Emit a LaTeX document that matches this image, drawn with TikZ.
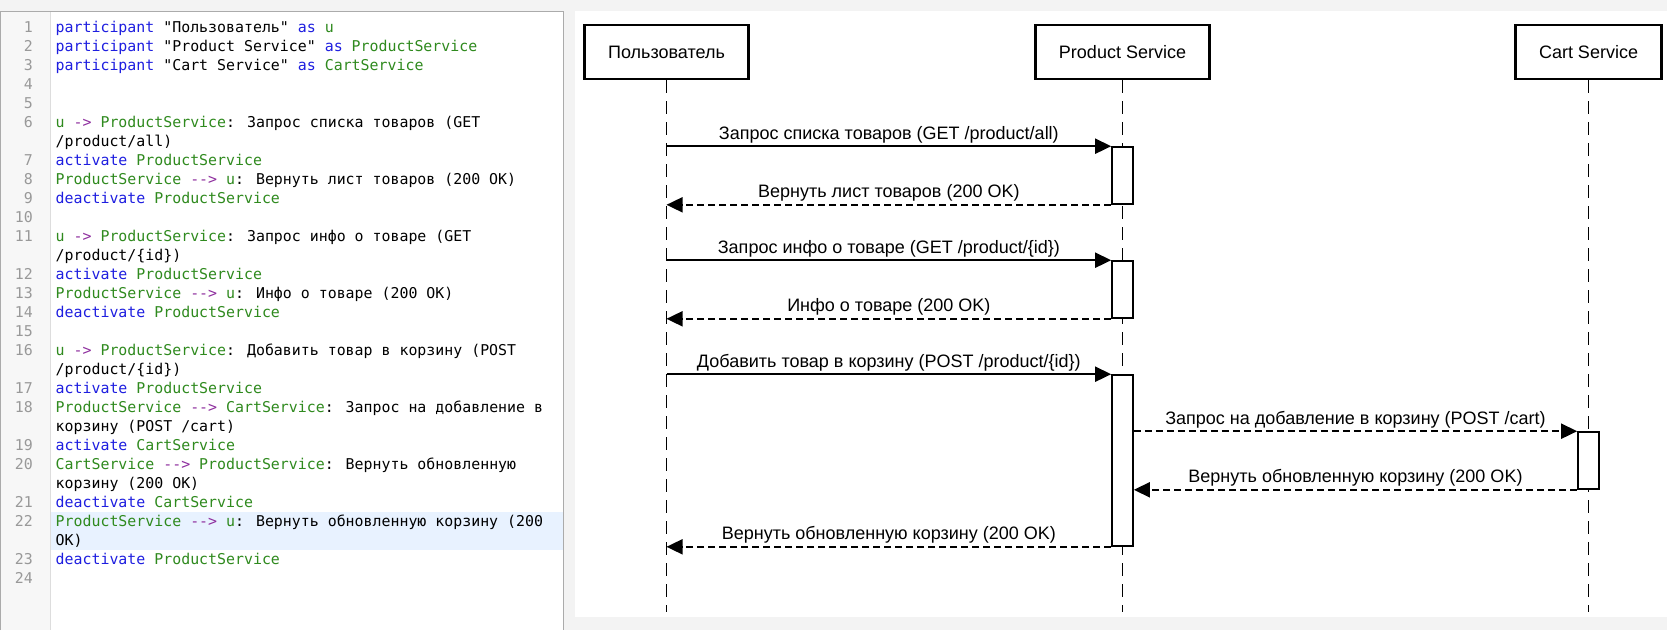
\documentclass[tikz,border=0pt]{standalone}
\usepackage{fontspec}
\usetikzlibrary{arrows.meta}
\newfontfamily\diagfont{Liberation Sans}
\newfontfamily\codefont{DejaVu Sans Mono}[WordSpace={1,0,0}]
\definecolor{bgc}{HTML}{F3F3F3}
\definecolor{edborder}{HTML}{ABABAB}
\definecolor{gutterc}{HTML}{F7F7F7}
\definecolor{gutterln}{HTML}{DDDDDD}
\definecolor{lnc}{HTML}{999999}
\definecolor{hlc}{HTML}{E8F2FF}
\definecolor{kwc}{HTML}{1E1EE0}
\definecolor{idc}{HTML}{2F8A1E}
\definecolor{opc}{HTML}{8E2E9E}
\newcommand\kw[1]{\textcolor{kwc}{#1}}
\newcommand\idn[1]{\textcolor{idc}{#1}}
\newcommand\op[1]{\textcolor{opc}{#1}}
\newcommand\sarr{-\kern0pt>}
\newcommand\darr{-\kern0pt-\kern0pt>}
\begin{document}
\begin{tikzpicture}[x=1pt,y=-1pt,
  codeline/.style={anchor=base west, inner sep=0pt, font=\codefont\fontsize{14.9}{19}\selectfont},
  lnum/.style={anchor=base east, inner sep=0pt, text=lnc, font=\codefont\fontsize{14.9}{19}\selectfont},
  actor/.style={draw=black, line width=2.5pt, fill=white, minimum height=54pt, inner sep=0pt, text height=13pt, text depth=0pt, font=\diagfont\fontsize{18}{22}\selectfont},
  lifeline/.style={draw=black, line width=1.6pt, dash pattern=on 13pt off 8pt},
  actbox/.style={draw=black, line width=1.6pt, fill=white, minimum width=21pt, inner sep=0pt},
  msg/.style={draw=black, line width=1.8pt, -{Triangle[length=16pt,width=15pt]}},
  reply/.style={msg, dash pattern=on 7pt off 4pt},
  lbl/.style={anchor=base, inner sep=0pt, yshift=7pt, font=\diagfont\fontsize{18}{22}\selectfont},
]
\useasboundingbox (0,0) rectangle (1667,630);
\fill[bgc] (0,0) rectangle (1667,630);
% editor panel
\fill[white] (0.5,11) rectangle (563,630);
\fill[gutterc] (1,11.5) rectangle (50,630);
\draw[gutterln, line width=1pt] (50,11.5) -- (50,630);
\fill[hlc] (50.5,511.8) rectangle (562.5,549.8);
\draw[edborder, line width=1pt] (0.5,630) -- (0.5,11) -- (563,11) -- (563,630);
% line numbers
\node[lnum] (n1) at (33,32.5) {1};
\node[lnum] (n2) at (33,51.5) {2};
\node[lnum] (n3) at (33,70.5) {3};
\node[lnum] (n4) at (33,89.5) {4};
\node[lnum] (n5) at (33,108.5) {5};
\node[lnum] (n6) at (33,127.5) {6};
\node[lnum] (n7) at (33,165.5) {7};
\node[lnum] (n8) at (33,184.5) {8};
\node[lnum] (n9) at (33,203.5) {9};
\node[lnum] (n10) at (33,222.5) {10};
\node[lnum] (n11) at (33,241.5) {11};
\node[lnum] (n12) at (33,279.5) {12};
\node[lnum] (n13) at (33,298.5) {13};
\node[lnum] (n14) at (33,317.5) {14};
\node[lnum] (n15) at (33,336.5) {15};
\node[lnum] (n16) at (33,355.5) {16};
\node[lnum] (n17) at (33,393.5) {17};
\node[lnum] (n18) at (33,412.5) {18};
\node[lnum] (n19) at (33,450.5) {19};
\node[lnum] (n20) at (33,469.5) {20};
\node[lnum] (n21) at (33,507.5) {21};
\node[lnum] (n22) at (33,526.5) {22};
\node[lnum] (n23) at (33,564.5) {23};
\node[lnum] (n24) at (33,583.5) {24};
% code
\node[codeline] (c0) at (55.5,32.5) {\kw{participant} "Пользователь" \kw{as} \idn{u}};
\node[codeline] (c1) at (55.5,51.5) {\kw{participant} "Product Service" \kw{as} \idn{ProductService}};
\node[codeline] (c2) at (55.5,70.5) {\kw{participant} "Cart Service" \kw{as} \idn{CartService}};
\node[codeline] (c5) at (55.5,127.5) {\idn{u} \op{\sarr} \idn{ProductService}: Запрос списка товаров (GET};
\node[codeline] (c6) at (55.5,146.5) {/product/all)};
\node[codeline] (c7) at (55.5,165.5) {\kw{activate} \idn{ProductService}};
\node[codeline] (c8) at (55.5,184.5) {\idn{ProductService} \op{\darr} \idn{u}: Вернуть лист товаров (200 OK)};
\node[codeline] (c9) at (55.5,203.5) {\kw{deactivate} \idn{ProductService}};
\node[codeline] (c11) at (55.5,241.5) {\idn{u} \op{\sarr} \idn{ProductService}: Запрос инфо о товаре (GET};
\node[codeline] (c12) at (55.5,260.5) {/product/\{id\})};
\node[codeline] (c13) at (55.5,279.5) {\kw{activate} \idn{ProductService}};
\node[codeline] (c14) at (55.5,298.5) {\idn{ProductService} \op{\darr} \idn{u}: Инфо о товаре (200 OK)};
\node[codeline] (c15) at (55.5,317.5) {\kw{deactivate} \idn{ProductService}};
\node[codeline] (c17) at (55.5,355.5) {\idn{u} \op{\sarr} \idn{ProductService}: Добавить товар в корзину (POST};
\node[codeline] (c18) at (55.5,374.5) {/product/\{id\})};
\node[codeline] (c19) at (55.5,393.5) {\kw{activate} \idn{ProductService}};
\node[codeline] (c20) at (55.5,412.5) {\idn{ProductService} \op{\darr} \idn{CartService}: Запрос на добавление в};
\node[codeline] (c21) at (55.5,431.5) {корзину (POST /cart)};
\node[codeline] (c22) at (55.5,450.5) {\kw{activate} \idn{CartService}};
\node[codeline] (c23) at (55.5,469.5) {\idn{CartService} \op{\darr} \idn{ProductService}: Вернуть обновленную};
\node[codeline] (c24) at (55.5,488.5) {корзину (200 OK)};
\node[codeline] (c25) at (55.5,507.5) {\kw{deactivate} \idn{CartService}};
\node[codeline] (c26) at (55.5,526.5) {\idn{ProductService} \op{\darr} \idn{u}: Вернуть обновленную корзину (200};
\node[codeline] (c27) at (55.5,545.5) {OK)};
\node[codeline] (c28) at (55.5,564.5) {\kw{deactivate} \idn{ProductService}};
% diagram panel
\fill[white] (575,11) rectangle (1667,617);
% participants
\node[actor, minimum width=164pt] (u) at (666.5,52) {Пользователь};
\node[actor, minimum width=174pt] (ps) at (1122.5,52) {Product Service};
\node[actor, minimum width=146pt] (cs) at (1588.5,52) {Cart Service};
\coordinate (ue) at (666.5,612);
\coordinate (pse) at (1122.5,612);
\coordinate (cse) at (1588.5,612);
\draw[lifeline] (u.south) -- (ue);
\draw[lifeline] (ps.south) -- (pse);
\draw[lifeline] (cs.south) -- (cse);
% activations
\node[actbox, minimum height=57pt] (a1) at (1122.5,175.5) {};
\node[actbox, minimum height=57pt] (a2) at (1122.5,289.5) {};
\node[actbox, minimum height=171pt] (a3) at (1122.5,460.5) {};
\node[actbox, minimum height=57pt] (a4) at (1588.5,460.5) {};
% messages
\draw[msg] (u |- a1.north west) -- (a1.north west) node[lbl, midway] {Запрос списка товаров (GET /product/all)};
\draw[reply] (a1.south west) -- (u |- a1.south west) node[lbl, midway] {Вернуть лист товаров (200 OK)};
\draw[msg] (u |- a2.north west) -- (a2.north west) node[lbl, midway] {Запрос инфо о товаре (GET /product/\{id\})};
\draw[reply] (a2.south west) -- (u |- a2.south west) node[lbl, midway] {Инфо о товаре (200 OK)};
\draw[msg] (u |- a3.north west) -- (a3.north west) node[lbl, midway] {Добавить товар в корзину (POST /product/\{id\})};
\draw[reply] (a3.east |- a4.north west) -- (a4.north west) node[lbl, midway] {Запрос на добавление в корзину (POST /cart)};
\draw[reply] (a4.south west) -- (a3.east |- a4.south west) node[lbl, midway] {Вернуть обновленную корзину (200 OK)};
\draw[reply] (a3.south west) -- (u |- a3.south west) node[lbl, midway] {Вернуть обновленную корзину (200 OK)};
\end{tikzpicture}
\end{document}
